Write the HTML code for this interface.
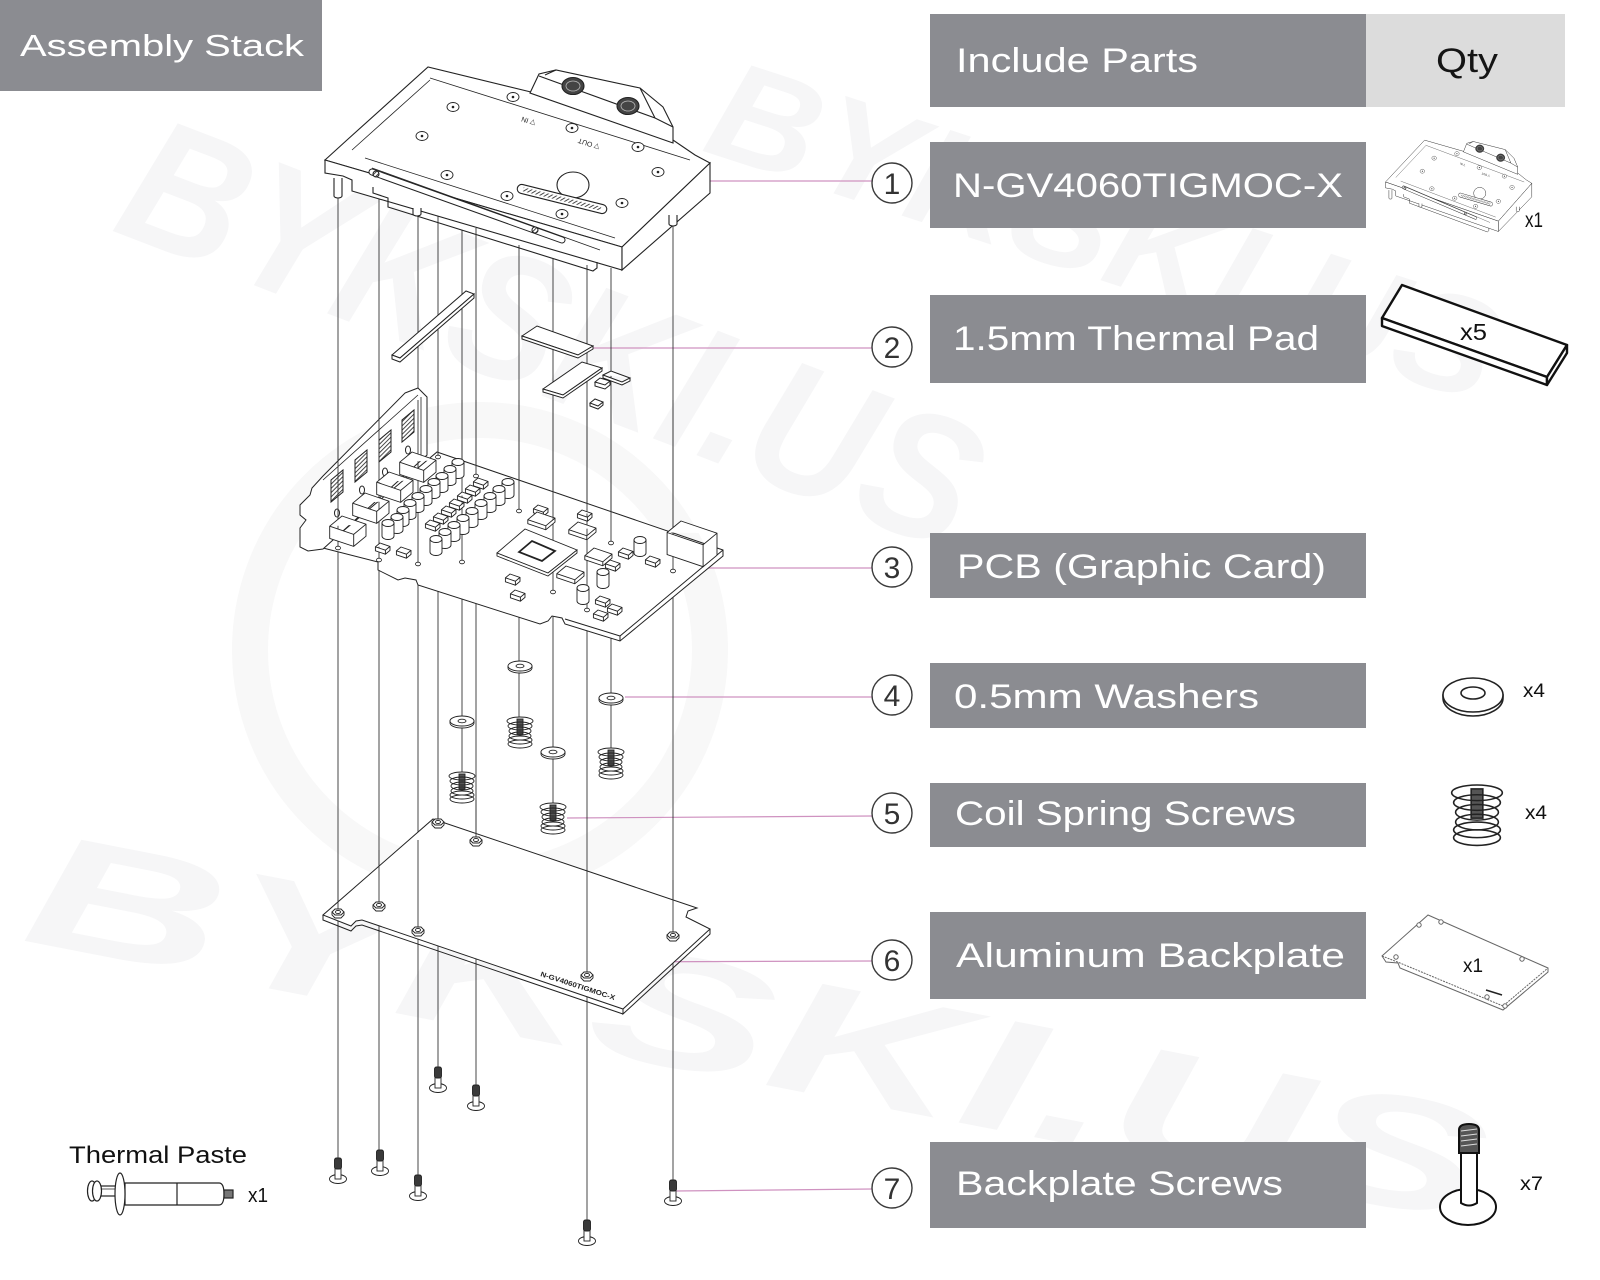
<!DOCTYPE html>
<html><head><meta charset="utf-8"><style>
html,body{margin:0;padding:0;background:#fff;width:1600px;height:1280px;overflow:hidden}
svg{display:block;overflow:hidden}
</style></head><body>
<svg width="1600" height="1280" viewBox="0 0 1600 1280" xmlns="http://www.w3.org/2000/svg">
<defs>
<clipPath id="frame"><rect x="0" y="0" width="1600" height="1280"/></clipPath>
<pattern id="hatch" width="3" height="3" patternUnits="userSpaceOnUse" patternTransform="rotate(45)"><rect width="3" height="3" fill="#fff"/><line x1="0" y1="0" x2="0" y2="3" stroke="#333" stroke-width="1.8"/></pattern>
<path id="ind" d="M0,0 L24,8.2 L24,20.2 L11.7,30.4 L-12.3,22.4 L-12.3,10.2 Z M-12.3,10.2 L11.7,18.4 L24,8.2 M11.7,18.4 L11.7,30.4"/>
<g id="cap"><path d="M-6,0 L-6,13 A6,3.5 0 0 0 6,13 L6,0 Z"/><ellipse rx="6" ry="3.5"/></g>
<path id="chip" d="M0,0 L10,3.4 L10,7.4 L5.4,11.2 L-4.6,7.8 L-4.6,3.8 Z M-4.6,3.8 L5.4,7.2 L10,3.4 M5.4,7.2 L5.4,11.2"/>
<path id="mem" d="M0,0 L18,6.1 L18,10.1 L8.8,17.8 L-9.2,11.7 L-9.2,7.7 Z M-9.2,7.7 L8.8,13.8 L18,6.1 M8.8,13.8 L8.8,17.8"/>
<path id="pwr" d="M0,0 L36,12.2 L36,34.2 L22.1,45.7 L-13.9,33.5 L-13.9,11.5 Z M-13.9,11.5 L22.1,23.7 L36,12.2 M22.1,23.7 L22.1,45.7"/>
<g id="nut"><path d="M-6,-1 L-6,2 L-3,5 L3,5 L6,2 L6,-1 Z"/><path d="M-6,-1 L-3,-4 L3,-4 L6,-1 L3,2 L-3,2 Z"/><ellipse cy="-1" rx="2.5" ry="1.6"/></g>
<g id="washer"><path d="M-12,0 L-12,2 A12,5 0 0 0 12,2 L12,0 Z"/><ellipse rx="12" ry="5"/><ellipse rx="4" ry="1.8"/></g>
<g id="spr">
 <rect x="-13" y="0" width="26" height="30" fill="#fff" stroke="none"/>
 <ellipse cy="27" rx="12" ry="4" fill="#fff"/>
 <rect x="-3" y="2" width="6" height="15" fill="#555"/>
 <ellipse cy="23" rx="12" ry="4" fill="none"/>
 <ellipse cy="19" rx="11" ry="4" fill="none"/>
 <ellipse cy="14" rx="11" ry="4" fill="none"/>
 <ellipse cy="9" rx="12" ry="4" fill="none"/>
 <ellipse cy="4" rx="13" ry="4" fill="none"/>
</g>
<g id="scr">
 <ellipse cy="21" rx="8.5" ry="4.5" fill="#fff"/>
 <rect x="-3" y="10" width="6" height="11" fill="#fff"/>
 <rect x="-3.5" y="0" width="7" height="11" rx="2" fill="#3a3a3a"/>
</g>
<g id="block" stroke="#222" stroke-width="1.1" fill="#fff">
 <path d="M325,160 L347,140 L428,67 L535,93 L673,140 L695,155 L710,163 L622,247 Z"/>
 <path d="M325,160 L622,247 L622,270 L352,191 L352,180 L343,176 L325,173 Z"/>
 <path d="M622,247 L710,163 L710,193 L622,270 Z"/>
 <path d="M373,187 L373,193 L388,198 L388,207 L593,271 L597,268 L597,262" fill="none"/>
 <path d="M334,178 L334,196 A4,2 0 0 0 342,196 L342,178" />
 <path d="M413,208 L413,214 A4,2 0 0 0 421,214 L421,208"/>
 <path d="M669,215 L669,224 A4,2 0 0 0 677,224 L677,215"/>
 <path d="M530,93 L539,74 L556,70 L640,88 L663,107 L673,127 L673,143 Z"/>
 <path d="M539,76 L655,118 L673,127 M556,70 L545,75 M640,88 L655,118" fill="none"/>
 <ellipse cx="573" cy="86" rx="11" ry="8.5" fill="#444"/>
 <ellipse cx="573" cy="86" rx="7" ry="5" fill="none" stroke="#bbb" stroke-width="0.8"/>
 <ellipse cx="628" cy="106" rx="11" ry="8.5" fill="#444"/>
 <ellipse cx="628" cy="106" rx="7" ry="5" fill="none" stroke="#bbb" stroke-width="0.8"/>
 <path d="M430,78 L690,160 M352,150 L430,80 M365,158 L615,238 M372,168 L600,250" fill="none" stroke-width="0.8"/>
 <line x1="372" y1="172" x2="562" y2="240" stroke="#222" stroke-width="7" stroke-linecap="round"/>
 <line x1="372" y1="172" x2="562" y2="240" stroke="#fff" stroke-width="5" stroke-linecap="round"/>
 <circle cx="376" cy="174" r="3" fill="url(#hatch)"/>
 <circle cx="535" cy="230" r="3" fill="url(#hatch)"/>
 <g stroke-width="0.9">
  <ellipse cx="453" cy="107" rx="6" ry="4.5"/><ellipse cx="513" cy="97" rx="6" ry="4.5"/>
  <ellipse cx="422" cy="136" rx="6" ry="4.5"/><ellipse cx="572" cy="128" rx="6" ry="4.5"/>
  <ellipse cx="638" cy="147" rx="6" ry="4.5"/><ellipse cx="447" cy="175" rx="6" ry="4.5"/>
  <ellipse cx="507" cy="196" rx="6" ry="4.5"/><ellipse cx="658" cy="172" rx="6" ry="4.5"/>
  <ellipse cx="622" cy="203" rx="6" ry="4.5"/><ellipse cx="562" cy="214" rx="6" ry="4.5"/>
 </g>
 <g fill="#222" stroke="none">
  <circle cx="453" cy="107" r="1.3"/><circle cx="513" cy="97" r="1.3"/><circle cx="422" cy="136" r="1.3"/>
  <circle cx="572" cy="128" r="1.3"/><circle cx="638" cy="147" r="1.3"/><circle cx="447" cy="175" r="1.3"/>
  <circle cx="507" cy="196" r="1.3"/><circle cx="658" cy="172" r="1.3"/><circle cx="622" cy="203" r="1.3"/>
  <circle cx="562" cy="214" r="1.3"/>
 </g>
 <ellipse cx="573" cy="185" rx="16" ry="13"/>
 <g transform="translate(562,199) rotate(14)">
  <rect x="-46" y="-4.5" width="92" height="9" rx="4.5"/>
  <rect x="-40" y="-2" width="80" height="4" fill="url(#hatch)" stroke="none"/>
 </g>
 <text transform="translate(536,121) rotate(198)" font-family="Liberation Sans, sans-serif" font-size="7" fill="#222" stroke="none">▽ IN</text>
 <text transform="translate(600,145) rotate(198)" font-family="Liberation Sans, sans-serif" font-size="7" fill="#222" stroke="none">▽ OUT</text>
</g>
</defs>

<!-- watermark -->
<g clip-path="url(#frame)">
<g fill="#f6f6f7" font-family="Liberation Sans, sans-serif" font-weight="bold" font-style="italic">
 <text transform="translate(110,230) rotate(21)" font-size="180" textLength="900" lengthAdjust="spacingAndGlyphs">BYKSKI.US</text>
 <text transform="translate(700,150) rotate(18)" font-size="140" textLength="820" lengthAdjust="spacingAndGlyphs">BYKSKI.US</text>
 <text transform="translate(20,940) rotate(11)" font-size="160" textLength="1480" lengthAdjust="spacingAndGlyphs">BYKSKI.US</text>
</g>
<circle cx="480" cy="650" r="230" fill="none" stroke="#f8f8f8" stroke-width="36"/>
</g>

<!-- header -->
<rect x="0" y="0" width="322" height="91" fill="#8b8c91"/>
<text x="20" y="56" font-family="Liberation Sans, sans-serif" font-size="31" fill="#fff" textLength="284" lengthAdjust="spacingAndGlyphs">Assembly Stack</text>

<g fill="#8b8c91">
 <rect x="930" y="14" width="436" height="93"/>
 <rect x="930" y="142" width="436" height="86"/>
 <rect x="930" y="295" width="436" height="88"/>
 <rect x="930" y="533" width="436" height="65"/>
 <rect x="930" y="663" width="436" height="65"/>
 <rect x="930" y="783" width="436" height="64"/>
 <rect x="930" y="912" width="436" height="87"/>
 <rect x="930" y="1142" width="436" height="86"/>
</g>
<rect x="1366" y="14" width="199" height="93" fill="#dcdcdc"/>
<g font-family="Liberation Sans, sans-serif" font-size="34" fill="#fff">
 <text x="956" y="72" textLength="242" lengthAdjust="spacingAndGlyphs">Include Parts</text>
 <text x="1436" y="72" fill="#151515" textLength="62" lengthAdjust="spacingAndGlyphs">Qty</text>
 <text x="953" y="197" textLength="390" lengthAdjust="spacingAndGlyphs">N-GV4060TIGMOC-X</text>
 <text x="953" y="350" textLength="366" lengthAdjust="spacingAndGlyphs">1.5mm Thermal Pad</text>
 <text x="957" y="578" textLength="369" lengthAdjust="spacingAndGlyphs">PCB (Graphic Card)</text>
 <text x="954" y="708" textLength="305" lengthAdjust="spacingAndGlyphs">0.5mm Washers</text>
 <text x="955" y="825" textLength="341" lengthAdjust="spacingAndGlyphs">Coil Spring Screws</text>
 <text x="956" y="967" textLength="389" lengthAdjust="spacingAndGlyphs">Aluminum Backplate</text>
 <text x="956" y="1195" textLength="327" lengthAdjust="spacingAndGlyphs">Backplate Screws</text>
</g>

<!-- leaders -->
<g stroke="#cf92c0" stroke-width="1.2">
 <line x1="612" y1="181" x2="872" y2="181"/>
 <line x1="593" y1="348" x2="872" y2="348"/>
 <line x1="652" y1="568" x2="872" y2="568"/>
 <line x1="625" y1="697" x2="872" y2="697"/>
 <line x1="567" y1="818" x2="872" y2="816"/>
 <line x1="597" y1="962" x2="872" y2="961"/>
 <line x1="675" y1="1191" x2="872" y2="1189"/>
</g>
<g fill="#fff" stroke="#3a3a3a" stroke-width="1.4">
 <circle cx="892" cy="183" r="20"/><circle cx="892" cy="347" r="20"/><circle cx="892" cy="567" r="20"/>
 <circle cx="892" cy="695" r="20"/><circle cx="892" cy="813" r="20"/><circle cx="892" cy="960" r="20"/>
 <circle cx="892" cy="1188" r="20"/>
</g>
<g font-family="Liberation Sans, sans-serif" font-size="30" fill="#333" text-anchor="middle">
 <text x="892" y="194">1</text><text x="892" y="358">2</text><text x="892" y="578">3</text>
 <text x="892" y="706">4</text><text x="892" y="824">5</text><text x="892" y="971">6</text>
 <text x="892" y="1199">7</text>
</g>

<!-- guide lines -->
<g stroke="#333" stroke-width="0.9">
 <line x1="338" y1="198" x2="338" y2="1158"/>
 <line x1="379" y1="192" x2="379" y2="1150"/>
 <line x1="418" y1="213" x2="418" y2="1175"/>
 <line x1="438" y1="216" x2="438" y2="1067"/>
 <line x1="462" y1="230" x2="462" y2="772"/>
 <line x1="476" y1="228" x2="476" y2="1085"/>
 <line x1="519" y1="245" x2="519" y2="717"/>
 <line x1="553" y1="258" x2="553" y2="803"/>
 <line x1="587" y1="265" x2="587" y2="1220"/>
 <line x1="611" y1="268" x2="611" y2="748"/>
 <line x1="673" y1="225" x2="673" y2="1180"/>
</g>

<!-- waterblock -->
<use href="#block"/>

<!-- thermal pads -->
<g fill="#fff" stroke="#222" stroke-width="1">
 <path d="M392,355 L466,291 L474,294 L400,358 Z"/>
 <path d="M392,355 L392,359 L400,362 L474,298 L474,294 L400,358 Z"/>
 <path d="M522,336 L537,326 L593,346 L578,355 Z"/>
 <path d="M522,336 L522,339 L578,358 L593,349 L593,346 L578,355 Z"/>
 <path d="M543,389 L582,362 L602,368 L563,395 Z"/>
 <path d="M543,389 L543,392 L563,398 L602,371 L602,368 L563,395 Z"/>
 <path d="M603,375 L611,371 L630,378 L622,382 Z M603,375 L603,378 L622,385 L630,381 L630,378"/>
 <path d="M595,382 L600,378 L610,381 L605,385 Z M595,382 L595,386 L605,389 L610,385 L610,381"/>
 <path d="M590,403 L595,399 L603,402 L598,406 Z M590,403 L590,406 L598,409 L603,405 L603,402"/>
</g>

<!-- PCB -->
<g fill="#fff" stroke="#222" stroke-width="1">
 <path d="M437,452 L723,550 L723,556 L620,641 L565,624 L562,618 L552,616 L548,621 L540,624 L418,585 L416,580 L405,578 L398,580 L378,570 L378,562 L323,548 Z"/>
 <path d="M723,550 L620,636 L620,641 M620,636 L565,619" fill="none"/>
 <path d="M405,393 L418,388 L427,397 L427,455 L323,549 L308,551 L300,547 L300,528 L306,520 L300,515 L300,505 L310,495 L312,488 L323,476 Z"/>
 <path d="M418,395 L323,480 M421,397 L421,455" fill="none" stroke-width="0.8"/>
 <path d="M402,420 L414,410 L414,432 L402,442 Z" fill="url(#hatch)"/>
 <path d="M379,440 L391,430 L391,452 L379,462 Z" fill="url(#hatch)"/>
 <path d="M355,460 L367,450 L367,472 L355,482 Z" fill="url(#hatch)"/>
 <path d="M331,480 L343,470 L343,492 L331,502 Z" fill="url(#hatch)"/>
 <ellipse cx="408" cy="450" rx="2.5" ry="4"/><ellipse cx="385" cy="472" rx="2.5" ry="4"/>
 <ellipse cx="362" cy="490" rx="2.5" ry="4"/><ellipse cx="337" cy="513" rx="2.5" ry="4"/>
</g>
<!-- guide segments over board -->
<g stroke="#333" stroke-width="0.9">
 <line x1="338" y1="400" x2="338" y2="548"/>
 <line x1="379" y1="400" x2="379" y2="560"/>
 <line x1="418" y1="400" x2="418" y2="564"/>
 <line x1="438" y1="400" x2="438" y2="457"/>
 <line x1="462" y1="400" x2="462" y2="562"/>
 <line x1="476" y1="400" x2="476" y2="476"/>
 <line x1="519" y1="400" x2="519" y2="511"/>
 <line x1="553" y1="400" x2="553" y2="592"/>
 <line x1="587" y1="400" x2="587" y2="610"/>
 <line x1="611" y1="400" x2="611" y2="543"/>
 <line x1="673" y1="400" x2="673" y2="571"/>
</g>
<g fill="#fff" stroke="#222" stroke-width="0.9">
 <use href="#ind" x="412" y="452"/><use href="#ind" x="389" y="472"/>
 <use href="#ind" x="365" y="493"/><use href="#ind" x="342" y="516"/>
 <use href="#cap" x="458" y="462"/><use href="#cap" x="450" y="469"/><use href="#cap" x="442" y="476"/>
 <use href="#cap" x="434" y="482"/><use href="#cap" x="426" y="489"/><use href="#cap" x="418" y="496"/>
 <use href="#cap" x="410" y="503"/>
 <use href="#chip" x="478" y="478"/><use href="#chip" x="470" y="485"/><use href="#chip" x="462" y="492"/>
 <use href="#chip" x="454" y="499"/><use href="#chip" x="446" y="506"/><use href="#chip" x="438" y="513"/>
 <use href="#chip" x="430" y="520"/>
 <use href="#cap" x="508" y="482"/><use href="#cap" x="499" y="489"/><use href="#cap" x="490" y="496"/>
 <use href="#cap" x="481" y="503"/><use href="#cap" x="472" y="511"/><use href="#cap" x="463" y="518"/>
 <use href="#cap" x="454" y="525"/><use href="#cap" x="445" y="532"/><use href="#cap" x="436" y="539"/>
 <use href="#cap" x="403" y="510"/><use href="#cap" x="397" y="517"/><use href="#cap" x="388" y="523"/>
 <use href="#chip" x="380" y="543"/><use href="#chip" x="401" y="547"/>
 <use href="#chip" x="538" y="505"/><use href="#chip" x="582" y="510"/>
 <use href="#mem" x="537" y="512"/><use href="#mem" x="578" y="522"/>
 <path d="M497,553 L525,529 L577,550 L548,573 Z"/>
 <path d="M497,553 L497,556 L548,576 L577,553 L577,550 L548,573 Z"/>
 <path d="M519,552 L532,541 L555,551 L542,561 Z" stroke-width="1.8"/>
 <use href="#mem" x="594" y="548"/><use href="#mem" x="566" y="566"/>
 <use href="#chip" x="623" y="548"/><use href="#chip" x="650" y="556"/><use href="#chip" x="610" y="560"/>
 <use href="#chip" x="510" y="574"/><use href="#chip" x="515" y="590"/>
 <use href="#cap" x="640" y="540"/><use href="#cap" x="603" y="572"/><use href="#cap" x="583" y="588"/>
 <use href="#chip" x="600" y="596"/><use href="#chip" x="612" y="604"/><use href="#chip" x="598" y="610"/>
 <use href="#pwr" x="681" y="521"/>
 <g stroke-width="0.8">
  <ellipse cx="338" cy="548" rx="2.5" ry="1.8"/><ellipse cx="379" cy="560" rx="2.5" ry="1.8"/>
  <ellipse cx="418" cy="564" rx="2.5" ry="1.8"/><ellipse cx="438" cy="457" rx="2.5" ry="1.8"/>
  <ellipse cx="462" cy="562" rx="2.5" ry="1.8"/><ellipse cx="476" cy="476" rx="2.5" ry="1.8"/>
  <ellipse cx="519" cy="511" rx="2.5" ry="1.8"/><ellipse cx="553" cy="592" rx="2.5" ry="1.8"/>
  <ellipse cx="587" cy="610" rx="2.5" ry="1.8"/><ellipse cx="611" cy="543" rx="2.5" ry="1.8"/>
  <ellipse cx="673" cy="571" rx="2.5" ry="1.8"/>
 </g>
</g>

<!-- washers & springs -->
<g fill="#fff" stroke="#222" stroke-width="0.9">
 <use href="#washer" x="520" y="666"/><use href="#washer" x="462" y="721"/>
 <use href="#washer" x="611" y="698"/><use href="#washer" x="553" y="752"/>
 <use href="#spr" x="520" y="717"/><use href="#spr" x="611" y="748"/>
 <use href="#spr" x="462" y="772"/><use href="#spr" x="553" y="803"/>
</g>

<!-- backplate -->
<g fill="#fff" stroke="#222" stroke-width="1">
 <path d="M433,819 L697,908 L688,911 L686,917 L692,920 L710,929 L623,1009 L362,920 L356,921 L351,926 L323,915 Z"/>
 <path d="M710,929 L710,934 L623,1014 L623,1009 M623,1014 L362,925 L356,926 L351,931 L323,920 L323,915" fill="none"/>
</g>
<g stroke="#333" stroke-width="0.9">
 <line x1="338" y1="880" x2="338" y2="913"/><line x1="379" y1="850" x2="379" y2="906"/>
 <line x1="418" y1="840" x2="418" y2="931"/><line x1="438" y1="800" x2="438" y2="823"/>
 <line x1="476" y1="800" x2="476" y2="841"/><line x1="587" y1="870" x2="587" y2="976"/>
 <line x1="673" y1="880" x2="673" y2="936"/>
</g>
<g fill="#fff" stroke="#222" stroke-width="0.9">
 <use href="#nut" x="438" y="823"/><use href="#nut" x="476" y="841"/><use href="#nut" x="338" y="913"/>
 <use href="#nut" x="379" y="906"/><use href="#nut" x="418" y="931"/><use href="#nut" x="673" y="936"/>
 <use href="#nut" x="587" y="976"/>
</g>
<text transform="translate(540,976) rotate(18)" font-family="Liberation Sans, sans-serif" font-size="7" font-weight="bold" fill="#222" textLength="78" lengthAdjust="spacingAndGlyphs">N-GV4060TIGMOC-X</text>

<!-- screws -->
<g fill="#fff" stroke="#222" stroke-width="0.9">
 <use href="#scr" x="338" y="1158"/><use href="#scr" x="380" y="1150"/><use href="#scr" x="418" y="1175"/>
 <use href="#scr" x="438" y="1067"/><use href="#scr" x="476" y="1085"/><use href="#scr" x="587" y="1220"/>
 <use href="#scr" x="673" y="1180"/>
</g>

<!-- thermal paste -->
<text x="69" y="1163" font-family="Liberation Sans, sans-serif" font-size="24" fill="#111" textLength="178" lengthAdjust="spacingAndGlyphs">Thermal Paste</text>
<g fill="#fff" stroke="#222" stroke-width="1.2">
 <rect x="96" y="1186" width="28" height="10"/>
 <line x1="100" y1="1189" x2="122" y2="1189" stroke-width="0.8"/>
 <ellipse cx="92" cy="1191" rx="4.5" ry="10"/>
 <ellipse cx="97" cy="1191" rx="4.5" ry="10"/>
 <path d="M125,1183 L219,1183 Q224,1183 224,1194 Q224,1205 219,1205 L125,1205 Z"/>
 <line x1="177" y1="1183" x2="177" y2="1205"/>
 <ellipse cx="120" cy="1194" rx="5" ry="21"/>
 <rect x="224" y="1190" width="9" height="8" fill="#777"/>
</g>
<text x="248" y="1202" font-family="Liberation Sans, sans-serif" font-size="20" fill="#111" textLength="20" lengthAdjust="spacingAndGlyphs">x1</text>

<!-- right icons -->
<use href="#block" transform="translate(1262,110) scale(0.38,0.45)"/>
<text x="1525" y="227" font-family="Liberation Sans, sans-serif" font-size="21" fill="#111" textLength="18" lengthAdjust="spacingAndGlyphs">x1</text>

<g fill="#fff" stroke="#111" stroke-width="2.4" stroke-linejoin="round">
 <path d="M1382,318 L1402,285 L1567,345 L1547,377 Z"/>
 <path d="M1382,318 L1547,377 L1547,385 L1382,326 Z"/>
 <path d="M1547,377 L1567,345 L1567,353 L1547,385 Z"/>
</g>
<text x="1460" y="340" font-family="Liberation Sans, sans-serif" font-size="23" fill="#111" textLength="27" lengthAdjust="spacingAndGlyphs">x5</text>

<g fill="#fff" stroke="#222" stroke-width="1.6">
 <path d="M1443,695 L1443,698 A30,18 0 0 0 1503,698 L1503,695 Z"/>
 <ellipse cx="1473" cy="695" rx="30" ry="17"/>
 <ellipse cx="1473" cy="693" rx="12" ry="6"/>
</g>
<text x="1523" y="697" font-family="Liberation Sans, sans-serif" font-size="19" fill="#111" textLength="22" lengthAdjust="spacingAndGlyphs">x4</text>

<g fill="#fff" stroke="#222" stroke-width="0.8" transform="translate(1477,785) scale(1.95)">
 <use href="#spr"/>
</g>
<text x="1525" y="819" font-family="Liberation Sans, sans-serif" font-size="19" fill="#111" textLength="22" lengthAdjust="spacingAndGlyphs">x4</text>

<g fill="#fff" stroke="#666" stroke-width="1">
 <path d="M1428,915 L1548,968 L1548,972 L1503,1010 L1400,968 L1398,963 L1386,962 L1382,956 Z"/>
 <path d="M1382,956 L1400,963 L1503,1006 L1548,968" fill="none" stroke-dasharray="2,1"/>
 <circle cx="1419" cy="925" r="2.2"/><circle cx="1441" cy="922" r="2.2"/><circle cx="1396" cy="957" r="2.2"/>
 <circle cx="1522" cy="959" r="2.2"/><circle cx="1487" cy="997" r="2.2"/><circle cx="1505" cy="1006" r="2.2"/>
 <line x1="1486" y1="990" x2="1502" y2="995" stroke="#222" stroke-width="1.5"/>
</g>
<text x="1463" y="972" font-family="Liberation Sans, sans-serif" font-size="19" fill="#111" textLength="20" lengthAdjust="spacingAndGlyphs">x1</text>

<g stroke="#111" stroke-width="2" fill="#fff">
 <ellipse cx="1468" cy="1207" rx="28" ry="18"/>
 <path d="M1461,1150 L1461,1203 Q1469,1208 1477,1203 L1477,1150 Z"/>
 <path d="M1459,1153 L1459,1130 Q1459,1124 1469,1124 Q1479,1124 1479,1130 L1479,1153 Z" fill="#555"/>
 <g stroke="#ddd" stroke-width="1">
  <line x1="1461" y1="1131" x2="1477" y2="1129"/><line x1="1461" y1="1136" x2="1477" y2="1134"/>
  <line x1="1461" y1="1141" x2="1477" y2="1139"/><line x1="1461" y1="1146" x2="1477" y2="1144"/>
 </g>
</g>
<text x="1520" y="1190" font-family="Liberation Sans, sans-serif" font-size="19" fill="#111" textLength="23" lengthAdjust="spacingAndGlyphs">x7</text>
</svg>
</body></html>
